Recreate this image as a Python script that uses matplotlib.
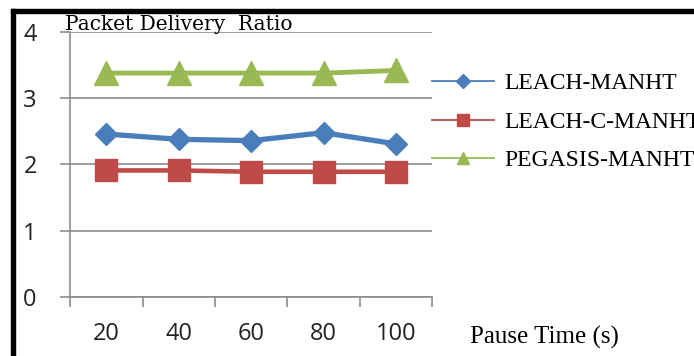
import matplotlib.pyplot as plt
from matplotlib.patches import Rectangle

pause_times = ["20", "40", "60", "80", "100"]
leach = [2.46, 2.38, 2.36, 2.48, 2.31]
leach_c = [1.91, 1.91, 1.89, 1.89, 1.89]
pegasis = [3.38, 3.38, 3.38, 3.38, 3.42]

grid_col = "#8c8c8c"

fig = plt.figure(figsize=(6.94, 3.56), dpi=100)
ax = fig.add_axes([0.101, 0.166, 0.522, 0.744])

x = list(range(len(pause_times)))
ax.plot(x, leach, color="#4a7ebb", lw=3.8, marker="D", ms=11.5, label="LEACH-MANHT")
ax.plot(x, leach_c, color="#be4b48", lw=3.3, marker="s", ms=16, label="LEACH-C-MANHT")
ax.plot(x, pegasis, color="#98b954", lw=3.5, marker="^", ms=17, label="PEGASIS-MANHT")

ax.set_xlim(-0.5, 4.5)
ax.set_ylim(0, 4)
ax.set_yticks([0, 1, 2, 3, 4])
ax.grid(axis="y", color=grid_col, lw=1.2)
ax.set_axisbelow(True)
for s in ["top", "right"]:
    ax.spines[s].set_visible(False)
for s in ["left", "bottom"]:
    ax.spines[s].set_color(grid_col)
    ax.spines[s].set_linewidth(1.2)

ax.set_xticks(x)
ax.set_xticklabels(pause_times)
ax.set_xticks([i - 0.5 for i in range(6)], minor=True)
ax.tick_params(axis="x", which="major", length=0, pad=18, labelsize=17, labelcolor="#222222")
ax.tick_params(axis="x", which="minor", length=7, color=grid_col, width=1.2, direction="out")
ax.tick_params(axis="y", length=7, color=grid_col, width=1.2, pad=17, labelsize=17, labelcolor="#222222")
for lab in ax.get_xticklabels() + ax.get_yticklabels():
    lab.set_family("Open Sans")

ax.text(-0.57, 4.03, "Packet Delivery  Ratio", family="DejaVu Serif", fontsize=14.5,
        va="baseline", ha="left")
fig.text(0.677, 0.053, "Pause Time (s)", family="Liberation Serif", fontsize=18,
         va="center", ha="left")

leg = ax.legend(loc="center left", bbox_to_anchor=(1.0, 0.66), frameon=False,
                prop={"family": "Liberation Serif", "size": 17}, handlelength=2.63,
                handletextpad=0.42, labelspacing=0.72, borderpad=0, borderaxespad=0)
for line, ms in zip(leg.get_lines(), [7, 8, 9]):
    line.set_linewidth(1.3)
    line.set_markersize(ms)

# black frame around picture (top and left edges)
fig.patches.append(Rectangle((11 / 694, 0), 4 / 694, 1 - 9 / 356, transform=fig.transFigure,
                             color="black", zorder=10))
fig.patches.append(Rectangle((11 / 694, 1 - 13 / 356), 1, 4 / 356, transform=fig.transFigure,
                             color="black", zorder=10))

fig.savefig("out.png", dpi=100)
